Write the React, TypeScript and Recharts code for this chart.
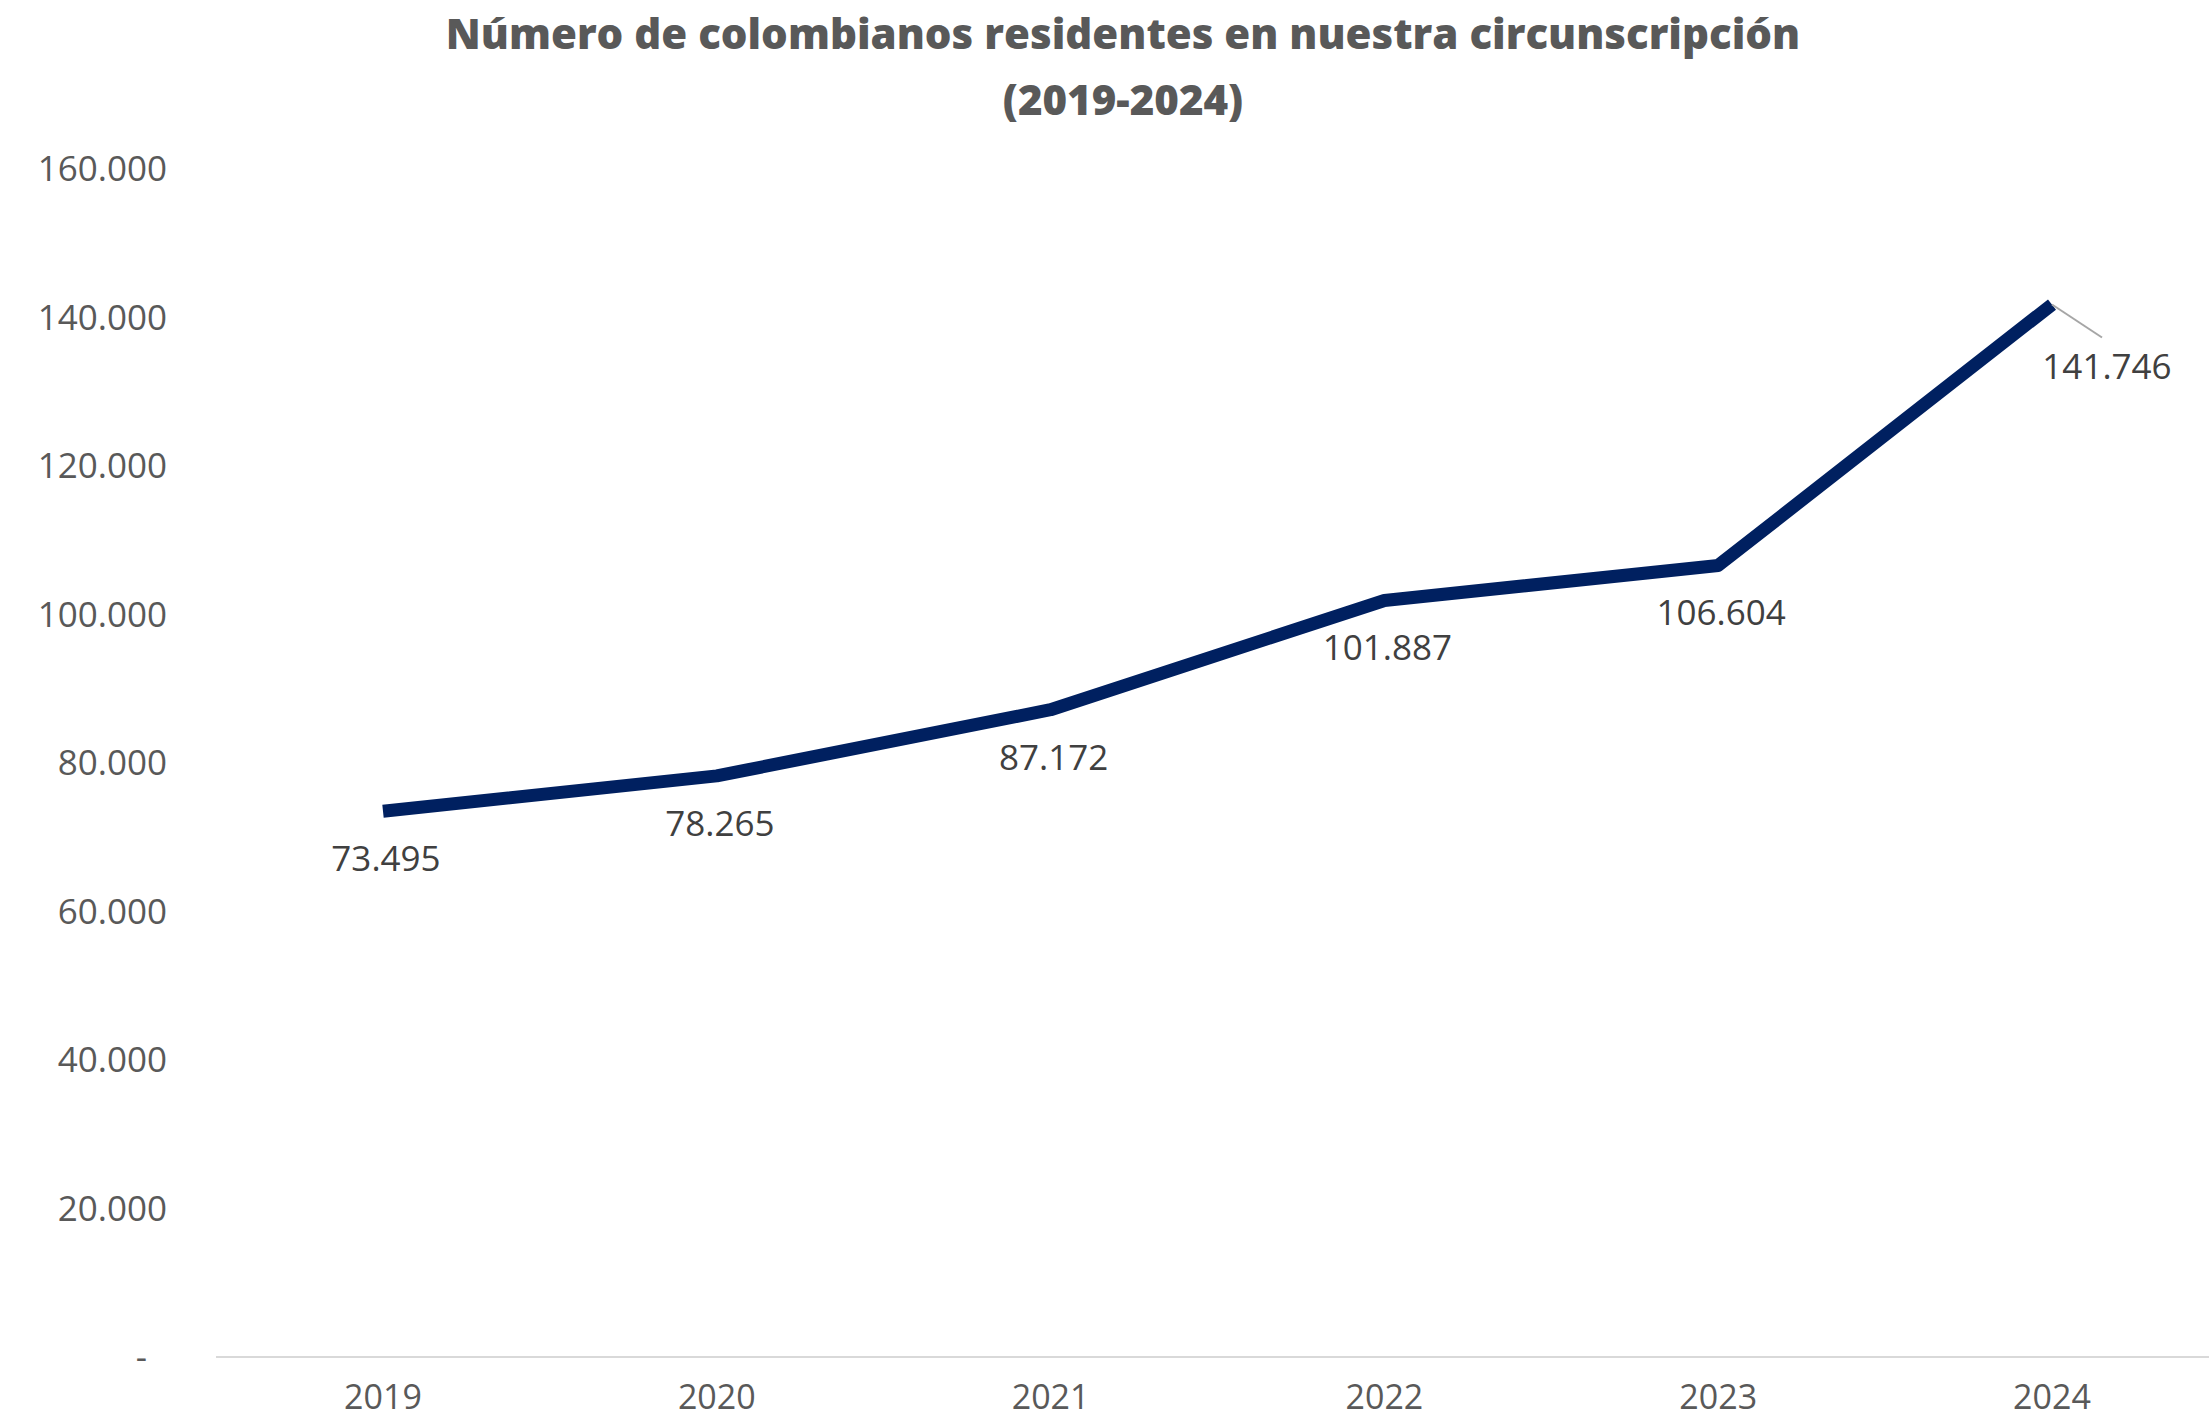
import { LineChart, Line, XAxis, YAxis, LabelList } from 'recharts';

const years = ['2019', '2020', '2021', '2022', '2023', '2024'];
const residents = [73495, 78265, 87172, 101887, 106604, 141746];
const yTicks = [0, 20000, 40000, 60000, 80000, 100000, 120000, 140000, 160000];

const data = years.map((year, i) => ({ year, residents: residents[i] }));

const FONT = '"Open Sans", sans-serif';

const formatNumber = (value: number) =>
  value === 0 ? '-' : new Intl.NumberFormat('de-DE').format(value);

const YTick = (props: any) => {
  const { y, payload } = props;
  const zero = payload.value === 0;
  return (
    <text
      x={zero ? 147 : 167}
      y={y}
      dy={12}
      textAnchor="end"
      fontFamily={FONT}
      fontSize={35}
      fill="#595959"
    >
      {formatNumber(payload.value)}
    </text>
  );
};

const ValueLabel = (props: any) => {
  const { x, y, value, index } = props;
  const last = index === residents.length - 1;
  if (last) {
    return (
      <g>
        <line x1={x} y1={y} x2={x + 50} y2={y + 33} stroke="#a6a6a6" strokeWidth={2} />
        <text x={x + 55} y={y + 74} textAnchor="middle" fontFamily={FONT} fontSize={35} fill="#404040">
          {formatNumber(value)}
        </text>
      </g>
    );
  }
  return (
    <text x={x + 3} y={y + 60} textAnchor="middle" fontFamily={FONT} fontSize={35} fill="#404040">
      {formatNumber(value)}
    </text>
  );
};

export default function App() {
  return (
    <div style={{ position: 'absolute', left: 0, top: 0, width: 2209, height: 1425, background: '#fff' }}>
      <div
        style={{
          position: 'absolute',
          left: 0,
          top: 0,
          width: 2246,
          textAlign: 'center',
          fontFamily: FONT,
          fontWeight: 800,
          fontSize: 42,
          lineHeight: '66px',
          color: '#595959',
        }}
      >
        Número de colombianos residentes en nuestra circunscripción
        <br />
        (2019-2024)
      </div>
      <LineChart
        width={2209}
        height={1425}
        data={data}
        margin={{ top: 169, right: 0, bottom: 0, left: 0 }}
      >
        <XAxis
          dataKey="year"
          height={68}
          padding={{ left: 167, right: 157 }}
          axisLine={{ stroke: '#d9d9d9', strokeWidth: 2 }}
          tickLine={false}
          tick={{ fontFamily: FONT, fontSize: 34, fill: '#595959' }}
          tickMargin={22}
          interval={0}
        />
        <YAxis
          width={216}
          domain={[0, 160000]}
          ticks={yTicks}
          axisLine={false}
          tickLine={false}
          tick={<YTick />}
          interval={0}
        />
        <Line
          type="linear"
          dataKey="residents"
          stroke="#002060"
          strokeWidth={13}
          strokeLinejoin="round"
          dot={false}
          activeDot={false}
          isAnimationActive={false}
        >
          <LabelList dataKey="residents" content={<ValueLabel />} />
        </Line>
      </LineChart>
    </div>
  );
}
